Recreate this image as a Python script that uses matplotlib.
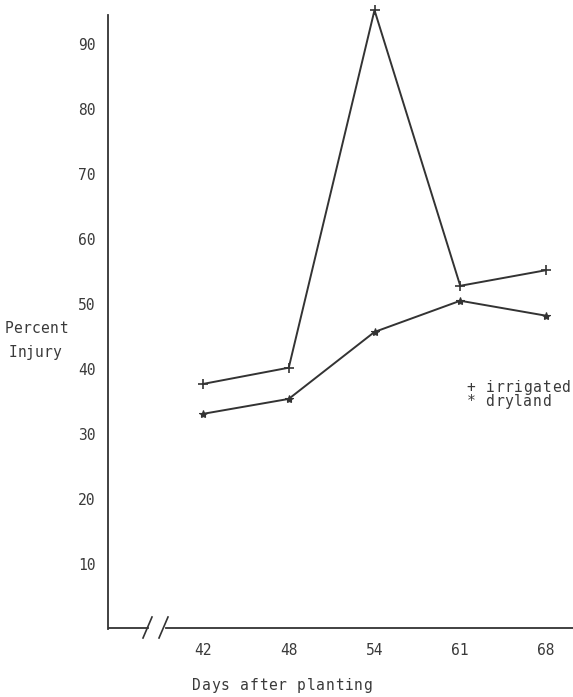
import matplotlib
matplotlib.use("Agg")
import matplotlib.pyplot as plt
from matplotlib.lines import Line2D

days = ["42", "48", "54", "61", "68"]
irrigated = [37.7, 40.2, 95.2, 52.8, 55.2]
dryland = [33.1, 35.4, 45.7, 50.5, 48.2]
yticks = [10, 20, 30, 40, 50, 60, 70, 80, 90]

W, H = 573, 697
fig = plt.figure(figsize=(W / 100, H / 100), dpi=100)
plt.rcParams['font.family'] = ['DejaVu Sans Mono']
tcol = "#3a3a3a"
col = "#333333"
fs = 10.5

# axes region in pixels
ax_left, ax_right, ax_top, ax_bottom = 108, 573, 15, 629
ax = fig.add_axes([ax_left / W, (H - ax_bottom) / H,
                   (ax_right - ax_left) / W, (ax_bottom - ax_top) / H])

px_per_cat = 85.75
x0 = (ax_left - 203) / px_per_cat
x1 = (ax_right - 203) / px_per_cat
ax.set_xlim(x0, x1)
ax.set_ylim(0, (ax_bottom - ax_top) / 6.5)

xs = list(range(len(days)))
ax.plot(xs, irrigated, color=col, lw=1.4, marker="+", ms=7, mew=1.2, clip_on=False)
ax.plot(xs, dryland, color=col, lw=1.4, marker="*", ms=6, mew=0.8, clip_on=False)

ax.set_xticks(xs)
ax.set_xticklabels(days)
ax.set_yticks(yticks)
ax.set_yticklabels([str(t) for t in yticks])
ax.tick_params(axis="both", length=0, labelsize=fs, colors=tcol)
ax.tick_params(axis="x", pad=10)
ax.tick_params(axis="y", pad=9)

for s in ["top", "right", "bottom"]:
    ax.spines[s].set_visible(False)
ax.spines["left"].set_color(col)
ax.spines["left"].set_linewidth(1.3)


def fx(p):
    return p / W


def fy(p):
    return (H - p) / H


ya = 628
fig.add_artist(Line2D([fx(109), fx(148)], [fy(ya), fy(ya)], color=col, lw=1.3))
fig.add_artist(Line2D([fx(166), fx(573)], [fy(ya), fy(ya)], color=col, lw=1.3))
fig.add_artist(Line2D([fx(143), fx(152)], [fy(638), fy(617)], color=col, lw=1.2))
fig.add_artist(Line2D([fx(159), fx(168)], [fy(638), fy(617)], color=col, lw=1.2))


def spaced_text(x, y, s, pitch=9.5):
    # y is the vertical centre of capital letters; draw on a common baseline
    base = y + 5
    for k, ch in enumerate(s):
        if ch == " ":
            continue
        fig.text(fx(x + pitch * (k + 0.5)), fy(base), ch, fontsize=fs, color=tcol,
                 va="baseline", ha="center")


spaced_text(4, 328, "Percent", 9.1)
spaced_text(9, 352, "Injury", 8.6)
spaced_text(192, 685, "Days after planting", 9.5)
spaced_text(466, 387, "+ irrigated", 9.5)
spaced_text(466, 401, "* dryland", 9.5)

fig.savefig("out.png", dpi=100, facecolor="white")
